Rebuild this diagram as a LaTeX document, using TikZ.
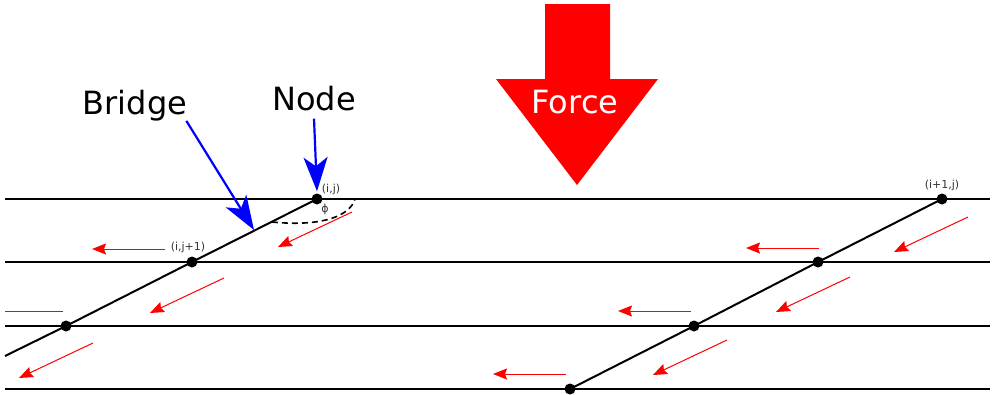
\documentclass[tikz,border=0pt]{standalone}
\usepackage{fontspec}
\setmainfont{DejaVu Sans}
\usetikzlibrary{arrows.meta}

\begin{document}
\begin{tikzpicture}[x=1pt,y=-1pt,
    strand/.style={line width=2pt},
    joint/.style={circle,fill,inner sep=0pt,minimum size=11pt},
    tag/.style={font=\fontsize{11}{13}\selectfont,text=black!80,inner sep=0pt},
    big/.style={font=\fontsize{32}{38}\selectfont,inner sep=0pt},
    pointer/.style={blue,line width=2.2pt,-{Stealth[length=34pt,width=24pt,inset=9pt]}},
    shear/.style={red,line width=1pt,-{Stealth[length=14pt,width=11pt,inset=2pt]}}]
      \useasboundingbox (0,0) rectangle (997,394);

      % fibres
      \draw[strand] (5,199) -- (990,199);
      \draw[strand] (5,262) -- (990,262);
      \draw[strand] (5,326) -- (990,326);
      \draw[strand] (5,389) -- (990,389);

      % nodes on the two bridges
      \node[joint] (ij)   at (317,199) {};
      \node[joint] (ij1)  at (192,262) {};
      \node[joint] (ij2)  at (66,326) {};
      \coordinate (ijend) at (5,356);
      \node[joint] (i1j)  at (942,199) {};
      \node[joint] (i1j1) at (818,262) {};
      \node[joint] (i1j2) at (694,326) {};
      \node[joint] (i1j3) at (570,389) {};

      \draw[strand] (ij.center) -- (ij1.center) -- (ij2.center) -- (ijend);
      \draw[strand] (i1j.center) -- (i1j1.center) -- (i1j2.center) -- (i1j3.center);

      \node[tag] (tij)  at (331,189) {(i,j)};
      \node[tag] (ti1j) at (942,185) {(i+1,j)};
      \node[tag] (tij1) at (188,247) {(i,j+1)};
      \node[tag] (phi)  at (325,209) {ϕ};

      % angle
      \draw[line width=1.6pt,dash pattern=on 6pt off 4pt] (272,222) .. controls (322,227) and (350,216) .. (355,199);

      % labels
      \node[big,anchor=base] (bridge) at (135,114) {Bridge};
      \node[big,anchor=base] (nodelbl) at (314,110) {Node};
      \coordinate (bt) at (254,230);
      \draw[pointer] ([xshift=-1pt]bridge.south east) -- (bt);
      \draw[pointer] ([yshift=-8pt]nodelbl.south) -- ([yshift=2pt]ij.north);

      % load
      \fill[red] (545,4) -- (610,4) -- (610,79) -- (658,79) -- (577,185) -- (496,79) -- (545,79) -- cycle;
      \node[big,anchor=base,text=white] (force) at (575,113) {Force};

      % shear arrows
      \foreach \x/\y in {352/212,968/217,224/278,850/277,93/343,727/340}
        \draw[shear] (\x,\y) -- ++(-74,35);
      \foreach \x/\y in {165/249,819/248,691/311,566/374}
        \draw[shear] (\x,\y) -- ++(-73,0);
      \draw[red,line width=1pt] (63,311) -- (5,311);
\end{tikzpicture}
\end{document}
